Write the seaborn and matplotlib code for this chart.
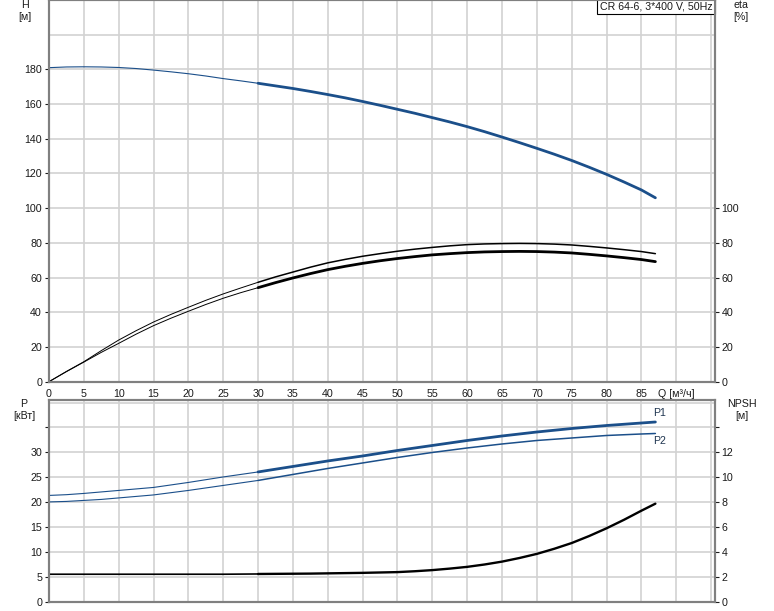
import numpy as np
import pandas as pd
import seaborn as sns
import matplotlib.pyplot as plt

# Pump curve readings (CR 64-6), Q in m3/h
q = [0, 2.5, 5, 7.5, 10, 12.5, 15, 17.5, 20, 22.5, 25, 27.5, 30, 32.5, 35, 37.5,
     40, 42.5, 45, 47.5, 50, 52.5, 55, 57.5, 60, 62.5, 65, 67.5, 70, 72.5, 75,
     77.5, 80, 82.5, 85, 87]
head = [181.0, 181.4, 181.5, 181.4, 181.1, 180.5, 179.6, 178.6, 177.5, 176.2,
        174.7, 173.4, 172.0, 170.5, 169.0, 167.3, 165.5, 163.6, 161.5, 159.3,
        157.0, 154.7, 152.2, 149.7, 147.0, 144.1, 141.0, 137.8, 134.5, 131.1,
        127.5, 123.6, 119.5, 115.1, 110.5, 106.0]
eta_upper = [0, 5.9, 11.5, 17.9, 24.0, 29.4, 34.4, 38.8, 42.9, 46.9, 50.6, 54.0,
             57.3, 60.4, 63.2, 66.0, 68.5, 70.5, 72.3, 73.8, 75.2, 76.4, 77.4,
             78.3, 79.0, 79.4, 79.6, 79.7, 79.6, 79.3, 78.8, 78.0, 77.1, 76.1,
             75.0, 73.8]
eta_lower = [0, 5.8, 11.3, 16.9, 22.1, 27.4, 32.3, 36.6, 40.6, 44.5, 48.1, 51.3,
             54.2, 57.1, 59.8, 62.3, 64.6, 66.5, 68.2, 69.7, 71.0, 72.1, 73.1,
             73.8, 74.4, 74.8, 75.0, 75.1, 75.0, 74.7, 74.2, 73.4, 72.5, 71.5,
             70.4, 69.2]
p1 = [21.4, 21.55, 21.8, 22.1, 22.4, 22.7, 23.0, 23.5, 24.0, 24.55, 25.1, 25.6,
      26.1, 26.65, 27.2, 27.75, 28.3, 28.8, 29.3, 29.85, 30.4, 30.9, 31.4, 31.9,
      32.4, 32.85, 33.3, 33.7, 34.1, 34.45, 34.8, 35.1, 35.4, 35.65, 35.9, 36.1]
p2 = [20.1, 20.2, 20.4, 20.6, 20.9, 21.2, 21.5, 21.95, 22.4, 22.9, 23.4, 23.9,
      24.4, 25.0, 25.6, 26.2, 26.8, 27.35, 27.9, 28.45, 29.0, 29.5, 30.0, 30.45,
      30.9, 31.3, 31.7, 32.05, 32.4, 32.65, 32.9, 33.15, 33.4, 33.55, 33.7, 33.8]
npsh = [2.25, 2.25, 2.25, 2.25, 2.25, 2.25, 2.25, 2.25, 2.25, 2.25, 2.25, 2.26,
        2.27, 2.28, 2.29, 2.30, 2.32, 2.34, 2.36, 2.39, 2.42, 2.49, 2.58, 2.70,
        2.84, 3.03, 3.26, 3.55, 3.88, 4.29, 4.75, 5.31, 5.93, 6.61, 7.34, 7.9]

x_ticks = list(range(0, 100, 5))
x_labels = [str(v) for v in range(0, 90, 5)] + ["Q [м³/ч]", ""]

BLUE = "#1b4f8a"
GRID = "#d2d2d2"
SPINE = "#808080"
TXT = "#1a1a1a"
FS = 7.7
Q_DUTY = 30  # curves get thicker from here on

sns.set_style("white")
plt.rcParams["font.family"] = ["Liberation Sans", "DejaVu Sans"]
plt.rcParams["font.size"] = FS

df = pd.DataFrame({"Q": q, "H": head, "eta1": eta_upper, "eta2": eta_lower,
                   "P1": p1, "P2": p2, "NPSH": npsh})
lo = df[df["Q"] <= Q_DUTY]
hi = df[df["Q"] >= Q_DUTY]

fig = plt.figure(figsize=(7.74, 6.11), dpi=100)
ax1 = fig.add_axes([0.0633, 0.3753, 0.860, 0.6247])
ax2 = fig.add_axes([0.0633, 0.0142, 0.860, 0.3311])


def style_axes(ax):
    for s in ax.spines.values():
        s.set_color(SPINE)
        s.set_linewidth(1.5)
    ax.tick_params(colors=TXT, labelsize=FS, length=3, width=0.8, pad=2)


# --- top: head and efficiency
sns.lineplot(data=lo, x="Q", y="H", ax=ax1, color=BLUE, linewidth=0.8)
sns.lineplot(data=hi, x="Q", y="H", ax=ax1, color=BLUE, linewidth=2.0)
sns.lineplot(data=lo, x="Q", y="eta1", ax=ax1, color="black", linewidth=0.7)
sns.lineplot(data=hi, x="Q", y="eta1", ax=ax1, color="black", linewidth=1.1)
sns.lineplot(data=lo, x="Q", y="eta2", ax=ax1, color="black", linewidth=0.7)
sns.lineplot(data=hi, x="Q", y="eta2", ax=ax1, color="black", linewidth=2.0)

ax1.set_xlim(0, 95.5)
ax1.set_ylim(0, 220)
ax1.set_xticks(x_ticks)
ax1.set_xticklabels(x_labels)
ax1.set_yticks(range(0, 200, 20))
ax1.set_yticks([200], minor=True)
ax1.tick_params(axis="y", which="minor", length=0)
ax1.grid(True, which="both", color=GRID, linewidth=1.2)
ax1.set_axisbelow(True)
ax1.set_xlabel("")
ax1.set_ylabel("")
style_axes(ax1)

ax1r = ax1.twinx()
ax1r.set_ylim(0, 220)
ax1r.set_yticks(range(0, 120, 20))
style_axes(ax1r)

ax1.text(0.997, 0.997, "CR 64-6, 3*400 V, 50Hz", transform=ax1.transAxes,
         ha="right", va="top", fontsize=FS, color=TXT,
         bbox=dict(boxstyle="square,pad=0.25", fc="white", ec="black", lw=0.8))

# --- bottom: power and NPSH
sns.lineplot(data=lo, x="Q", y="P1", ax=ax2, color=BLUE, linewidth=0.8)
sns.lineplot(data=hi, x="Q", y="P1", ax=ax2, color=BLUE, linewidth=2.0)
sns.lineplot(data=lo, x="Q", y="P2", ax=ax2, color=BLUE, linewidth=0.8)
sns.lineplot(data=hi, x="Q", y="P2", ax=ax2, color=BLUE, linewidth=1.1)

ax2.set_xlim(0, 95.5)
ax2.set_ylim(0, 40.5)
ax2.set_xticks(x_ticks)
ax2.set_xticklabels([])
ax2.set_yticks(range(0, 40, 5))
ax2.set_yticklabels([str(v) for v in range(0, 35, 5)] + [""])
ax2.set_yticks([40], minor=True)
ax2.tick_params(axis="y", which="minor", length=0)
ax2.grid(True, which="both", color=GRID, linewidth=1.2)
ax2.set_axisbelow(True)
ax2.set_xlabel("")
ax2.set_ylabel("")
style_axes(ax2)
ax2.tick_params(axis="x", length=0)

ax2r = ax2.twinx()
sns.lineplot(data=lo, x="Q", y="NPSH", ax=ax2r, color="black", linewidth=1.2)
sns.lineplot(data=hi, x="Q", y="NPSH", ax=ax2r, color="black", linewidth=1.7)
ax2r.set_ylim(0, 40.5 * 0.4)
ax2r.set_yticks(range(0, 16, 2))
ax2r.set_yticklabels([str(v) for v in range(0, 14, 2)] + [""])
ax2r.set_ylabel("")
style_axes(ax2r)

ax2.text(q[-1] - 0.3, p1[-1] + 0.8, "P1", ha="left", va="bottom", fontsize=FS, color="#1f3550")
ax2.text(q[-1] - 0.3, p2[-1] - 0.6, "P2", ha="left", va="top", fontsize=FS, color="#1f3550")

# axis titles
W, Hh = 774, 611
def ftext(px, py, s):
    fig.text(px / W, 1 - py / Hh, s, ha="center", va="center", fontsize=FS,
             color=TXT, linespacing=1.35)

ftext(25, 11, "H\n[м]")
ftext(741, 11, "eta\n[%]")
ftext(24, 410, "P\n[кВт]")
ftext(742, 410, "NPSH\n[м]")

fig.savefig("out.png", dpi=100)
